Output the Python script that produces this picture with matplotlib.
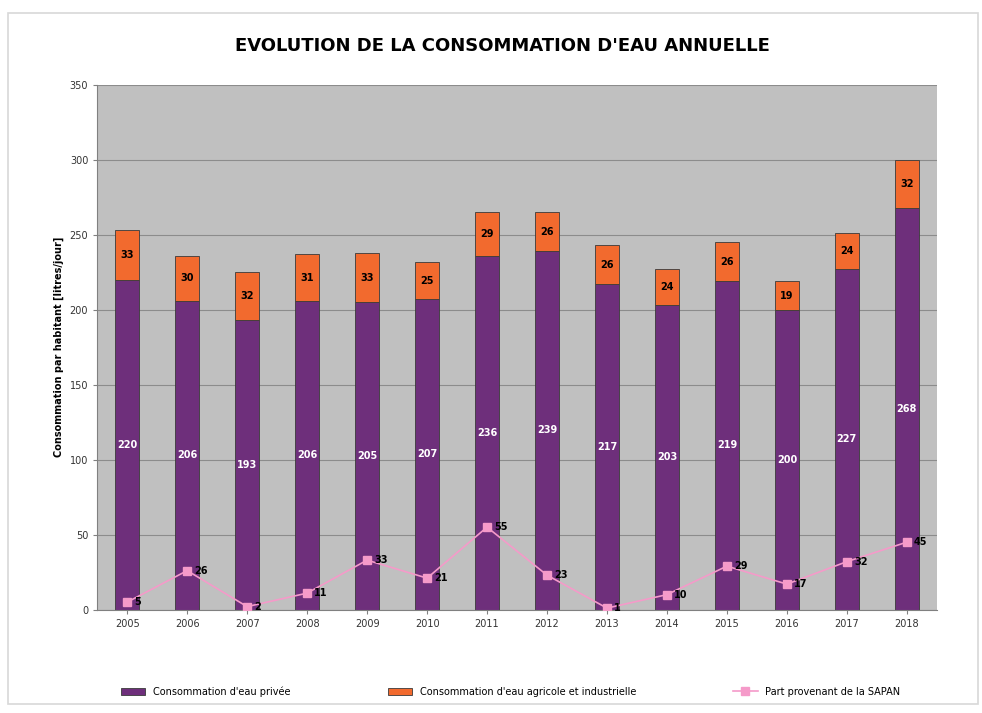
import numpy as np
import matplotlib.pyplot as plt
from matplotlib.patches import Rectangle

# données
annees = ['2005', '2006', '2007', '2008', '2009', '2010', '2011',
          '2012', '2013', '2014', '2015', '2016', '2017', '2018']
conso_privee = [220, 206, 193, 206, 205, 207, 236, 239, 217, 203, 219, 200, 227, 268]
conso_agricole = [33, 30, 32, 31, 33, 25, 29, 26, 26, 24, 26, 19, 24, 32]
part_sapan = [5, 26, 2, 11, 33, 21, 55, 23, 1, 10, 29, 17, 32, 45]

violet = '#6E2F7B'
orange = '#F26A2E'
rose = '#F59AC9'

fig = plt.figure(figsize=(9.82, 7.13), dpi=100)
# cadre clair autour du graphique (derrière les axes)
fig.patches.append(Rectangle((0.008, 0.012), 0.988, 0.97, transform=fig.transFigure,
                             facecolor='none', edgecolor='#D8D8D8', lw=1.2, zorder=-10))
ax = fig.add_axes([0.099, 0.145, 0.855, 0.736])
ax.set_facecolor('#C0C0C0')

x = np.arange(len(annees))
w = 0.41
b1 = ax.bar(x, conso_privee, w, color=violet, edgecolor='#3A3A3A', lw=0.6,
            label="Consommation d'eau privée", zorder=2)
b2 = ax.bar(x, conso_agricole, w, bottom=conso_privee, color=orange, edgecolor='#3A3A3A',
            lw=0.6, label="Consommation d'eau agricole et industrielle", zorder=2)
ln, = ax.plot(x, part_sapan, color=rose, marker='s', ms=6, lw=1.2,
              label='Part provenant de la SAPAN', zorder=3)

for i in range(len(x)):
    ax.text(x[i], conso_privee[i] / 2, str(conso_privee[i]), color='white',
            ha='center', va='center', fontsize=7, fontweight='bold', zorder=4)
    ax.text(x[i], conso_privee[i] + conso_agricole[i] / 2, str(conso_agricole[i]),
            color='black', ha='center', va='center', fontsize=7, fontweight='bold', zorder=4)
    ax.text(x[i] + 0.12, part_sapan[i], str(part_sapan[i]), color='black',
            ha='left', va='center', fontsize=7, fontweight='bold', zorder=4)

ax.set_xlim(-0.5, len(x) - 0.5)
ax.set_ylim(0, 350)
ax.set_yticks(np.arange(0, 351, 50))
ax.set_xticks(x)
ax.set_xticklabels(annees)
ax.tick_params(labelsize=7, length=3, color='#808080', labelcolor='#333333')
ax.yaxis.grid(True, color='#8C8C8C', lw=0.8, zorder=0)
ax.set_axisbelow(True)
for s in ['top', 'right']:
    ax.spines[s].set_visible(False)
for s in ['left', 'bottom']:
    ax.spines[s].set_color('#808080')
ax.set_ylabel('Consommation par habitant [litres/jour]', fontsize=7, fontweight='bold')

fig.text(0.512, 0.935, "EVOLUTION DE LA CONSOMMATION D'EAU ANNUELLE",
         ha='center', va='center', fontsize=13, fontweight='bold')

fig.legend(handles=[b1, b2, ln], loc='center', bbox_to_anchor=(0.52, 0.03), ncol=3,
           frameon=False, fontsize=7, columnspacing=10, handlelength=2.5)

fig.savefig('out.png', dpi=100)
